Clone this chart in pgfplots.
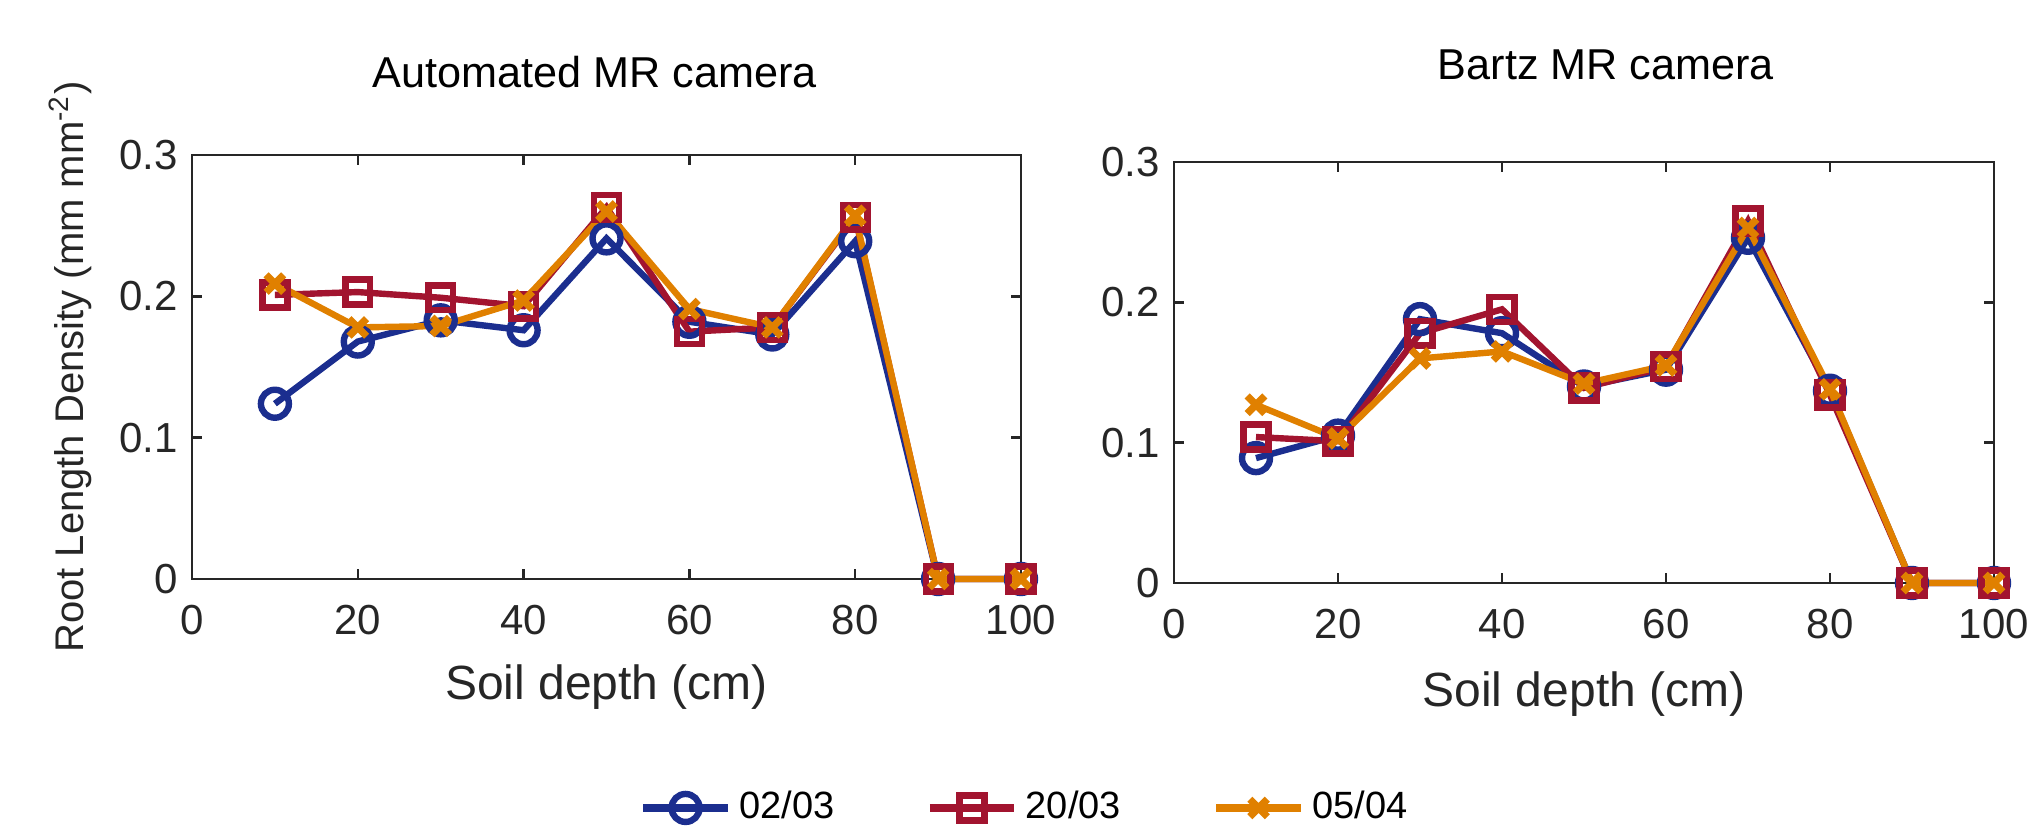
\documentclass[border=0pt]{standalone}
\usepackage{fontspec}
\setmainfont{Liberation Sans}
\usepackage{pgfplots}
\pgfplotsset{compat=1.18}
\definecolor{cblue}{RGB}{27,46,143}
\definecolor{cred}{RGB}{162,20,47}
\definecolor{corange}{RGB}{224,128,0}
\pgfplotsset{
  myaxis/.style={
    scale only axis,
    xmin=0, xmax=100, ymin=0, ymax=0.3,
    xtick={0,20,40,60,80,100},
    ytick={0,0.1,0.2,0.3},
    tick align=inside,
    major tick length=2.5pt,
    axis line style={line width=0.6pt, black!85},
    every tick/.style={black!85, line width=0.6pt},
    tick label style={font=\fontsize{10.5}{12}\selectfont, text=black!85},
    /pgf/number format/assume math mode=true,
    /pgf/number format/fixed,
    xticklabel style={yshift=-3pt},
    xlabel style={font=\fontsize{12}{14}\selectfont, text=black!85},
    title style={font=\fontsize{10.8}{13}\selectfont, at={(axis description cs:0.5,1)}, anchor=center},
    clip=false,
  },
  sblue/.style={cblue, line width=1.6pt, mark=o, mark size=3.5pt, mark options={solid, line width=1.6pt}},
  sred/.style={cred, line width=1.6pt, mark=square, mark size=3.1pt, mark options={solid, line width=1.6pt}},
  sorange/.style={corange, line width=1.6pt, mark=x, mark size=3.1pt, mark options={solid, line width=1.8pt}},
}
\begin{document}
\begin{tikzpicture}
\useasboundingbox (0,0) rectangle (508.5pt,208pt);
\begin{axis}[myaxis,
  at={(48pt,63.25pt)}, anchor=south west,
  width=207.25pt, height=106pt,
  title={Automated MR camera},
  title style={yshift=14.75pt, xshift=-2.9pt},
  xlabel={Soil depth (cm)},
  xlabel style={at={(axis description cs:0.5,0)}, anchor=center, yshift=-27pt},
  ylabel={Root Length Density (mm mm\textsuperscript{-2})},
  ylabel style={font=\fontsize{10}{12}\selectfont, text=black!85, at={(axis description cs:-0.147,0.5)}, anchor=center},
  legend columns=3,
  legend style={draw=none, fill=none, at={(1.008,-0.54)}, anchor=center, font=\fontsize{9.5}{11}\selectfont,
    /tikz/every even column/.append style={column sep=21pt}},
  legend cell align=left,
  legend image code/.code={\draw[mark repeat=2,mark phase=2, line width=1.8pt] plot coordinates {(0cm,0cm) (0.37cm,0cm) (0.74cm,0cm)};},
]
\addplot[sblue] coordinates {(10,0.124) (20,0.168) (30,0.183) (40,0.176) (50,0.241) (60,0.182) (70,0.173) (80,0.239) (90,0) (100,0)};
\addplot[sred] coordinates {(10,0.201) (20,0.203) (30,0.199) (40,0.193) (50,0.263) (60,0.175) (70,0.178) (80,0.256) (90,0) (100,0)};
\addplot[sorange] coordinates {(10,0.209) (20,0.178) (30,0.179) (40,0.197) (50,0.260) (60,0.191) (70,0.178) (80,0.257) (90,0) (100,0)};
\legend{02/03, 20/03, 05/04}
\end{axis}
\begin{axis}[myaxis,
  at={(293.5pt,62.25pt)}, anchor=south west,
  width=205pt, height=105.25pt,
  title={Bartz MR camera},
  title style={yshift=18.2pt, xshift=5.5pt},
  xlabel={Soil depth (cm)},
  xlabel style={at={(axis description cs:0.5,0)}, anchor=center, yshift=-27.75pt},
]
\addplot[sblue] coordinates {(10,0.089) (20,0.105) (30,0.188) (40,0.178) (50,0.140) (60,0.152) (70,0.246) (80,0.137) (90,0) (100,0)};
\addplot[sred] coordinates {(10,0.104) (20,0.101) (30,0.178) (40,0.195) (50,0.139) (60,0.154) (70,0.258) (80,0.134) (90,0) (100,0)};
\addplot[sorange] coordinates {(10,0.127) (20,0.103) (30,0.160) (40,0.165) (50,0.142) (60,0.155) (70,0.253) (80,0.138) (90,0) (100,0)};
\end{axis}
\end{tikzpicture}
\end{document}
